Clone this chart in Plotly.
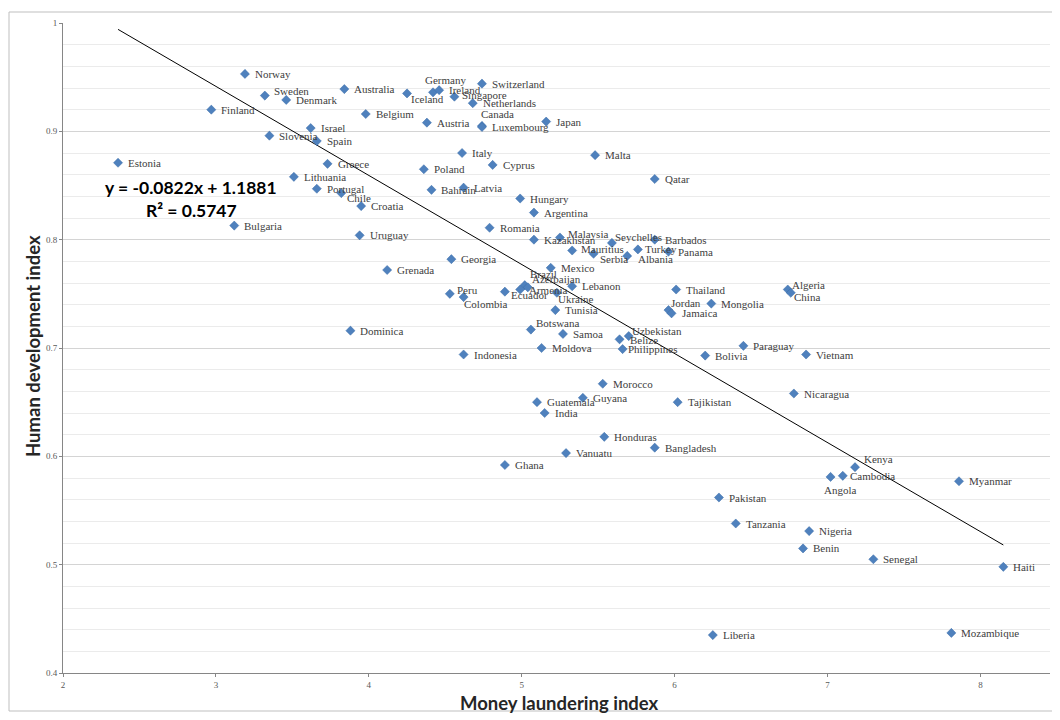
import plotly.graph_objects as go

# ---------------- data ----------------
countries = [
    "Norway", "Sweden", "Denmark", "Australia", "Finland", "Belgium", "Israel", "Slovenia",
    "Spain", "Estonia", "Greece", "Lithuania", "Portugal", "Chile", "Croatia", "Bulgaria",
    "Uruguay", "Germany", "Ireland", "Iceland", "Switzerland", "Singapore", "Netherlands",
    "Canada", "Luxembourg", "Austria", "Japan", "Italy", "Malta", "Poland", "Cyprus", "Qatar",
    "Bahrain", "Latvia", "Hungary", "Argentina", "Romania", "Kazakhstan", "Malaysia",
    "Seychelles", "Barbados", "Mauritius", "Turkey", "Panama", "Serbia", "Albania", "Georgia",
    "Grenada", "Mexico", "Brazil", "Azerbaijan", "Armenia", "Lebanon", "Ukraine", "Peru",
    "Colombia", "Ecuador", "Tunisia", "Thailand", "Algeria", "China", "Jordan", "Jamaica",
    "Mongolia", "Uzbekistan", "Belize", "Botswana", "Samoa", "Philippines", "Moldova",
    "Indonesia", "Dominica", "Bolivia", "Paraguay", "Vietnam", "Morocco", "Guyana",
    "Guatemala", "India", "Tajikistan", "Nicaragua", "Honduras", "Bangladesh", "Vanuatu",
    "Ghana", "Kenya", "Cambodia", "Angola", "Myanmar", "Pakistan", "Tanzania", "Nigeria",
    "Benin", "Senegal", "Haiti", "Liberia", "Mozambique",
]
mli = [
    3.19, 3.32, 3.46, 3.84, 2.97, 3.98, 3.62, 3.35,
    3.66, 2.36, 3.73, 3.51, 3.66, 3.82, 3.95, 3.12,
    3.94, 4.42, 4.46, 4.25, 4.74, 4.56, 4.68,
    4.74, 4.74, 4.38, 5.16, 4.61, 5.48, 4.36, 4.81, 5.87,
    4.41, 4.62, 4.99, 5.08, 4.79, 5.08, 5.25,
    5.59, 5.87, 5.33, 5.76, 5.96, 5.47, 5.69, 4.54,
    4.12, 5.19, 5.02, 5.04, 4.99, 5.33, 5.23, 4.53,
    4.62, 4.89, 5.22, 6.01, 6.74, 6.76, 5.96, 5.98,
    6.24, 5.70, 5.64, 5.06, 5.27, 5.66, 5.13,
    4.62, 3.88, 6.20, 6.45, 6.86, 5.53, 5.40,
    5.10, 5.15, 6.02, 6.78, 5.54, 5.87, 5.29,
    4.89, 7.18, 7.10, 7.02, 7.86, 6.29, 6.40, 6.88,
    6.84, 7.30, 8.15, 6.25, 7.81,
]
hdi = [
    0.953, 0.933, 0.929, 0.939, 0.920, 0.916, 0.903, 0.896,
    0.891, 0.871, 0.870, 0.858, 0.847, 0.843, 0.831, 0.813,
    0.804, 0.936, 0.938, 0.935, 0.944, 0.932, 0.926,
    0.905, 0.904, 0.908, 0.909, 0.880, 0.878, 0.865, 0.869, 0.856,
    0.846, 0.848, 0.838, 0.825, 0.811, 0.800, 0.802,
    0.797, 0.800, 0.790, 0.791, 0.789, 0.787, 0.785, 0.782,
    0.772, 0.774, 0.758, 0.756, 0.754, 0.757, 0.751, 0.750,
    0.747, 0.752, 0.735, 0.754, 0.754, 0.751, 0.735, 0.732,
    0.741, 0.711, 0.708, 0.717, 0.713, 0.699, 0.700,
    0.694, 0.716, 0.693, 0.702, 0.694, 0.667, 0.654,
    0.650, 0.640, 0.650, 0.658, 0.618, 0.608, 0.603,
    0.592, 0.590, 0.582, 0.581, 0.577, 0.562, 0.538, 0.531,
    0.515, 0.505, 0.498, 0.435, 0.437,
]
x_tick_vals = [2, 3, 4, 5, 6, 7, 8]
y_tick_vals = [0.4, 0.5, 0.6, 0.7, 0.8, 0.9, 1.0]
y_tick_text = ["0.4", "0.5", "0.6", "0.7", "0.8", "0.9", "1"]
trend_slope = -0.0822
trend_intercept = 1.1881
r_squared = 0.5747
x_title = "Money laundering index"
y_title = "Human development index"

# ---------------- style / layout ----------------
PAGE_OFFSET = 8           # default body margin of the html page
W, H = 1060 - PAGE_OFFSET, 720 - PAGE_OFFSET
PLOT_L, PLOT_R, PLOT_T, PLOT_B = 63, 1050, 23, 673   # target window pixels
ML = PLOT_L - PAGE_OFFSET
MT = PLOT_T - PAGE_OFFSET
MR = W - (PLOT_R - PAGE_OFFSET)
MB = H - (PLOT_B - PAGE_OFFSET)
X_RANGE = [2, 2 + (PLOT_R - PLOT_L) / 152.9]
Y_RANGE = [0.4, 1.0]
MARKER_COLOR = "#4F81BD"
LABEL_FONT = dict(family="Liberation Serif, Times New Roman, serif", size=11, color="#404040")
TICK_FONT = dict(family="Liberation Serif, Times New Roman, serif", size=9, color="#595959")
BOLD_FONT = "Lato, Calibri, Carlito, sans-serif"

# label offsets in pixels (dx right, dy down) relative to the marker
DEFAULT_DX, DEFAULT_DY = 8, 0
label_offsets = {
    "Sweden": (7, -5), "Chile": (4, 5), "Germany": (-10, -12), "Iceland": (2, 6),
    "Singapore": (6, -2), "Canada": (-3, -12), "Malaysia": (6, -4), "Seychelles": (1, -6),
    "Mauritius": (7, -2), "Turkey": (5, 0), "Serbia": (4, 5), "Albania": (9, 3),
    "Brazil": (3, -11), "Azerbaijan": (2, -8), "Armenia": (7, 0), "Ecuador": (4, 3),
    "Ukraine": (-1, 6), "Peru": (5, -4), "Colombia": (-2, 7), "Jordan": (1, -7),
    "Algeria": (2, -5), "China": (1, 4), "Botswana": (3, -7), "Uzbekistan": (1, -5),
    "Belize": (8, 1), "Philippines": (3, 0), "Kenya": (7, -8), "Cambodia": (5, 0),
    "Angola": (-9, 13),
}


def px_to_paper(px, py):
    """Window pixel -> paper coordinate of the plot area."""
    return (px - PLOT_L) / (PLOT_R - PLOT_L), (PLOT_B - py) / (PLOT_B - PLOT_T)


fig = go.Figure()

# trendline from the fitted equation, spanning the data range
tx = [min(mli), max(mli)]
ty = [trend_slope * v + trend_intercept for v in tx]
fig.add_trace(go.Scatter(x=tx, y=ty, mode="lines", line=dict(color="black", width=1),
                         hoverinfo="skip", showlegend=False))

fig.add_trace(go.Scatter(
    x=mli, y=hdi, mode="markers", text=countries,
    marker=dict(symbol="diamond", size=7, color=MARKER_COLOR,
                line=dict(color="#3A6DA8", width=0.5)),
    showlegend=False,
))

annotations = []
for name, xv, yv in zip(countries, mli, hdi):
    dx, dy = label_offsets.get(name, (DEFAULT_DX, DEFAULT_DY))
    annotations.append(dict(
        x=xv, y=yv, xref="x", yref="y", text=name, showarrow=False,
        xanchor="left", yanchor="middle", xshift=dx, yshift=-dy, font=LABEL_FONT,
    ))

# equation and R²
ex, ey = px_to_paper(191, 187)
annotations.append(dict(x=ex, y=ey, xref="paper", yref="paper", showarrow=False,
                        text=f"<b>y = {trend_slope:.4f}x + {trend_intercept:.4f}</b>",
                        xanchor="center", yanchor="middle",
                        font=dict(family=BOLD_FONT, size=17.5, color="#000000")))
rx, ry = px_to_paper(191, 210)
annotations.append(dict(x=rx, y=ry, xref="paper", yref="paper", showarrow=False,
                        text=f"<b>R² = {r_squared:.4f}</b>",
                        xanchor="center", yanchor="middle",
                        font=dict(family=BOLD_FONT, size=17.5, color="#000000")))

# axis titles
axx, axy = px_to_paper(559, 703)
annotations.append(dict(x=axx, y=axy, xref="paper", yref="paper", showarrow=False,
                        text=f"<b>{x_title}</b>", xanchor="center", yanchor="middle",
                        font=dict(family=BOLD_FONT, size=18.5, color="#262626")))
ayx, ayy = px_to_paper(33, 346)
annotations.append(dict(x=ayx, y=ayy, xref="paper", yref="paper", showarrow=False,
                        text=f"<b>{y_title}</b>", textangle=-90,
                        xanchor="center", yanchor="middle",
                        font=dict(family=BOLD_FONT, size=18.5, color="#262626")))

bx0, by0 = px_to_paper(9, 711)
bx1, by1 = px_to_paper(1055, 12)

fig.update_layout(
    width=W, height=H,
    margin=dict(l=ML, r=MR, t=MT, b=MB),
    paper_bgcolor="white", plot_bgcolor="white",
    annotations=annotations,
    shapes=[dict(type="rect", xref="paper", yref="paper", x0=bx0, y0=by0, x1=bx1, y1=by1,
                 line=dict(color="#BFBFBF", width=1), fillcolor="rgba(0,0,0,0)", layer="below")],
    xaxis=dict(range=X_RANGE, tickvals=x_tick_vals, showgrid=False, zeroline=False,
               showline=True, linecolor="#868686", linewidth=1,
               ticks="outside", ticklen=3, tickcolor="#868686", tickfont=TICK_FONT),
    yaxis=dict(range=Y_RANGE, tickvals=y_tick_vals, ticktext=y_tick_text,
               showgrid=True, gridcolor="#D4D4D4", gridwidth=1, zeroline=False,
               showline=True, linecolor="#868686", linewidth=1,
               ticks="outside", ticklen=3, tickcolor="#868686", tickfont=TICK_FONT,
               minor=dict(dtick=0.02, tick0=0.4, showgrid=True, gridcolor="#EBEBEB", gridwidth=1)),
    font=dict(family="Liberation Serif"),
)

fig.write_html("out.html")
